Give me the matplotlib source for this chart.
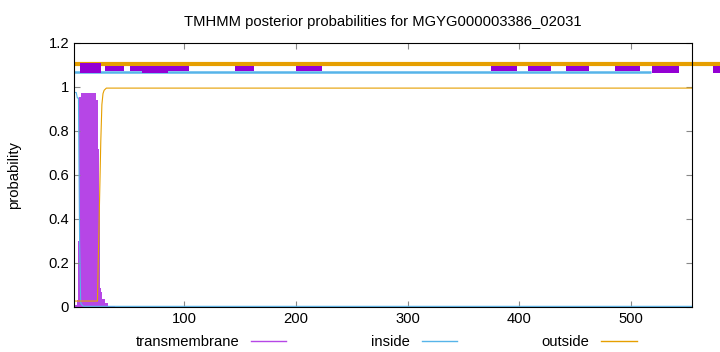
"""TMHMM posterior probability plot for MGYG000003386_02031."""
import numpy as np
import matplotlib
matplotlib.use("Agg")
import matplotlib.pyplot as plt
from matplotlib.patches import Rectangle

plt.rcParams["font.family"] = ["Liberation Sans", "DejaVu Sans"]

SEQ_LEN = 555
TITLE = "TMHMM posterior probabilities for MGYG000003386_02031"

# per-residue posteriors (residue -> probability)
TM_HEAD = [0.01, 0.01, 0.01, 0.03, 0.30, 0.955, 0.955, 0.975, 0.975, 0.975,
           0.975, 0.975, 0.975, 0.975, 0.975, 0.975, 0.975, 0.975, 0.975, 0.975,
           0.94, 0.94, 0.72, 0.48, 0.086, 0.07, 0.036, 0.036, 0.018, 0.018,
           0.018, 0.005, 0.005, 0.005, 0.005, 0.005, 0.005]
TM_TAIL = 0.002
INSIDE_HEAD = [0.975, 0.975, 0.975, 0.95, 0.95, 0.30, 0.02, 0.01, 0.005]
INSIDE_TAIL = 0.003
OUTSIDE_HEAD = [0.027] * 22 + [0.27, 0.50, 0.75, 0.92, 0.97, 0.985, 0.99]
OUTSIDE_TAIL = 0.995

# predicted topology strip above the curves: (start, end)
TM_BOXES = [(29, 46), (51, 62), (85, 104), (145, 162), (200, 223),
            (375, 398), (408, 429), (442, 463), (486, 508)]
TM_BOXES_LOW = [(62, 85), (519, 543), (574, 600)]
TM_BOX_FIRST = [(6, 25)]
INSIDE_SPAN = (1, 518)
OUTSIDE_SPAN = (1, 600)

XTICKS = [100, 200, 300, 400, 500]
YTICKS = [0, 0.2, 0.4, 0.6, 0.8, 1, 1.2]


def fill_tail(head, tail):
    return np.array(head + [tail] * (SEQ_LEN - len(head)))


pos = np.arange(1, SEQ_LEN + 1)
tm = fill_tail(TM_HEAD, TM_TAIL)
inside = fill_tail(INSIDE_HEAD, INSIDE_TAIL)
outside = fill_tail(OUTSIDE_HEAD, OUTSIDE_TAIL)

PURPLE, PURPLE_IMP = "#9400d3", "#b646e6"
BLUE, ORANGE = "#56b4e9", "#e69f00"
FS = 10.6

fig = plt.figure(figsize=(7.2, 3.52), dpi=100)
ax = fig.add_axes([74 / 720, 1 - 307 / 352, (692 - 74) / 720, (307 - 43) / 352])

ax.bar(pos, tm, width=1.0, color=PURPLE_IMP, linewidth=0)
ax.plot(pos, inside, color=BLUE, lw=0.8)
ax.plot(pos, outside, color=ORANGE, lw=0.8)

# topology strip, drawn outside the clip like gnuplot arrows
ax.plot(OUTSIDE_SPAN, [1.105, 1.105], color=ORANGE, lw=3, clip_on=False,
        solid_capstyle="butt")
ax.plot(INSIDE_SPAN, [1.068, 1.068], color=BLUE, lw=1.8, clip_on=False,
        solid_capstyle="butt")
for boxes, y0, y1 in [(TM_BOXES, 1.074, 1.097), (TM_BOXES_LOW, 1.063, 1.097),
                      (TM_BOX_FIRST, 1.063, 1.109)]:
    for s, e in boxes:
        ax.add_patch(Rectangle((s, y0), e - s, y1 - y0, facecolor=PURPLE,
                               edgecolor="none", clip_on=False, zorder=3))

ax.set_xlim(1, SEQ_LEN)
ax.set_ylim(0, 1.2)
ax.set_xticks(XTICKS)
ax.set_yticks(YTICKS)
ax.set_yticklabels([f"{t:g}" for t in YTICKS])
ax.tick_params(direction="in", top=True, right=True, labelsize=FS, length=4,
               color="#888888")
ax.set_ylabel("probability", fontsize=FS, labelpad=20)
ax.set_title(TITLE, fontsize=FS, pad=12)

ax.legend(loc="upper center", bbox_to_anchor=(0.505, -0.055), ncol=3, frameon=False,
          fontsize=FS, handlelength=2.4, handletextpad=0.8, columnspacing=5.75,
          markerfirst=False,
          handles=[plt.Line2D([], [], color=PURPLE_IMP, lw=1.0),
                   plt.Line2D([], [], color=BLUE, lw=1.0),
                   plt.Line2D([], [], color=ORANGE, lw=1.0)],
          labels=["transmembrane", "inside", "outside"])

fig.savefig("out.png", dpi=100)
